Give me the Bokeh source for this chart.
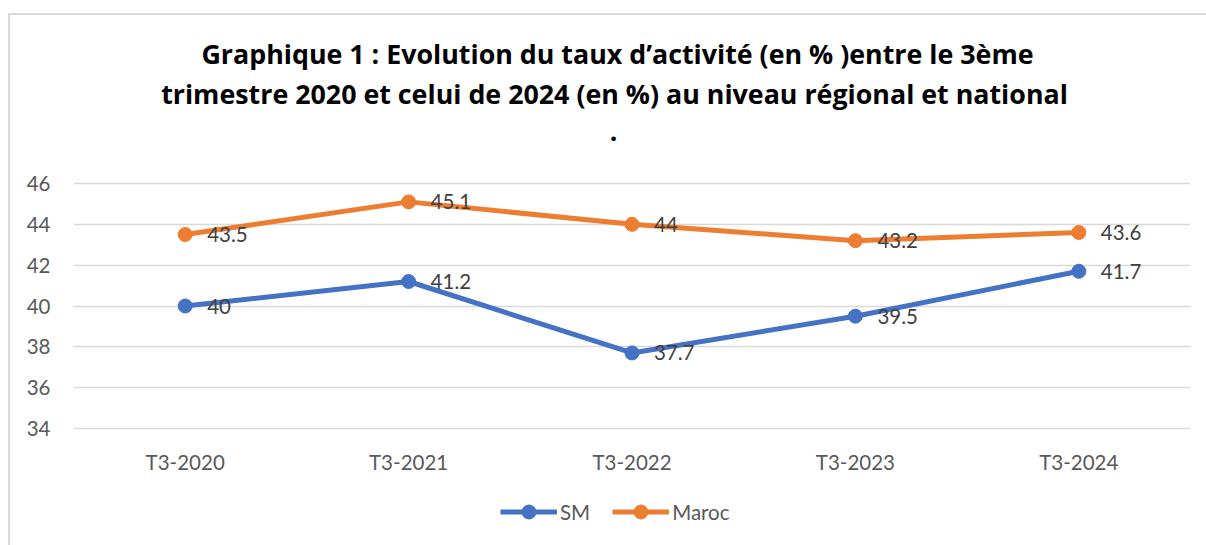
from bokeh.plotting import figure
from bokeh.models import ColumnDataSource, Legend, LegendItem, Label, FactorRange, Range1d
from bokeh.core.properties import value
from bokeh.embed import file_html
from bokeh.resources import INLINE

periods = ["T3-2020", "T3-2021", "T3-2022", "T3-2023", "T3-2024"]
sm = [40, 41.2, 37.7, 39.5, 41.7]
maroc = [43.5, 45.1, 44, 43.2, 43.6]
y_ticks = [34, 36, 38, 40, 42, 44, 46]
title_lines = [
    "Graphique 1 : Evolution du taux d\u2019activit\u00e9 (en % )entre le 3\u00e8me",
    "trimestre 2020 et celui de 2024 (en %) au niveau r\u00e9gional et national",
    ".",
]

BLUE = "#4472C4"
ORANGE = "#ED7D31"
FONT = "Lato"
W, H = 1206, 545

# layout: the frame spans the full height; the axis band 34..46 sits at px 183..428
top_px, bot_px = 183, 428
ppu = (bot_px - top_px) / (y_ticks[-1] - y_ticks[0])
y0 = y_ticks[0] - (H - bot_px) / ppu
y1 = y_ticks[-1] + top_px / ppu

p = figure(
    width=W, height=H, title=None,
    x_range=FactorRange(*periods, range_padding=0),
    y_range=Range1d(y0, y1),
    output_backend="svg", toolbar_location=None,
    min_border_left=73, min_border_right=16, min_border_top=0, min_border_bottom=0,
)
p.outline_line_color = None
p.background_fill_color = None
p.border_fill_color = None
p.styles = {
    "background-color": "white",
    "background-image": "linear-gradient(#d9d9d9, #d9d9d9), linear-gradient(#d9d9d9, #d9d9d9)",
    "background-repeat": "no-repeat",
    "background-position": "8px 13px, 8px 13px",
    "background-size": "2px 100%, 100% 2px",
}

# title lines (frame-relative screen units)
for txt, xx, base in zip(title_lines, [544, 541, 540], [53, 93, 131]):
    p.add_layout(Label(x=xx, y=H - base, x_units="screen", y_units="screen", text=txt,
                       text_align="center", text_baseline="alphabetic",
                       text_font="Open Sans", text_font_size="26.8px",
                       text_font_style="bold", text_color="black"))

p.xgrid.grid_line_color = None
p.ygrid.grid_line_color = "#d9d9d9"
p.ygrid.grid_line_width = 1.5
p.yaxis.ticker = y_ticks
p.yaxis.axis_line_color = None
p.yaxis.major_tick_line_color = None
p.yaxis.minor_tick_line_color = None
p.yaxis.major_tick_out = 0
p.yaxis.major_tick_in = 0
p.yaxis.major_label_text_font = FONT
p.yaxis.major_label_text_font_size = "20.5px"
p.yaxis.major_label_text_color = "#595959"
p.yaxis.major_label_standoff = 23
p.xaxis.visible = False

# category labels under the 34 line
p.text(x=periods, y=y_ticks[0], text=periods, y_offset=33,
       text_align="center", text_baseline="alphabetic",
       text_font=value(FONT), text_font_size="20.5px", text_color="#595959")

src = ColumnDataSource(dict(x=periods, sm=sm, maroc=maroc,
                            sm_lbl=[f"{v:g}" for v in sm],
                            ma_lbl=[f"{v:g}" for v in maroc]))

l1 = p.line("x", "sm", source=src, line_color=BLUE, line_width=5)
c1 = p.scatter("x", "sm", source=src, size=14, fill_color=BLUE, line_color=BLUE)
l2 = p.line("x", "maroc", source=src, line_color=ORANGE, line_width=5)
c2 = p.scatter("x", "maroc", source=src, size=14, fill_color=ORANGE, line_color=ORANGE)

for col, lbl in (("sm", "sm_lbl"), ("maroc", "ma_lbl")):
    p.text("x", col, text=lbl, source=src, x_offset=22, y_offset=0,
           text_align="left", text_baseline="middle",
           text_font=value(FONT), text_font_size="20.5px", text_color="#404040")

legend = Legend(items=[LegendItem(label="SM", renderers=[l1, c1]),
                       LegendItem(label="Maroc", renderers=[l2, c2])],
                orientation="horizontal", location=(427, 16),
                glyph_width=57, glyph_height=35, label_standoff=3, spacing=22,
                label_text_font=FONT, label_text_font_size="20.5px",
                label_text_color="#595959", border_line_color=None,
                background_fill_alpha=0, margin=0, padding=0)
p.add_layout(legend, "center")

open("out.html", "w").write(file_html(p, INLINE))
